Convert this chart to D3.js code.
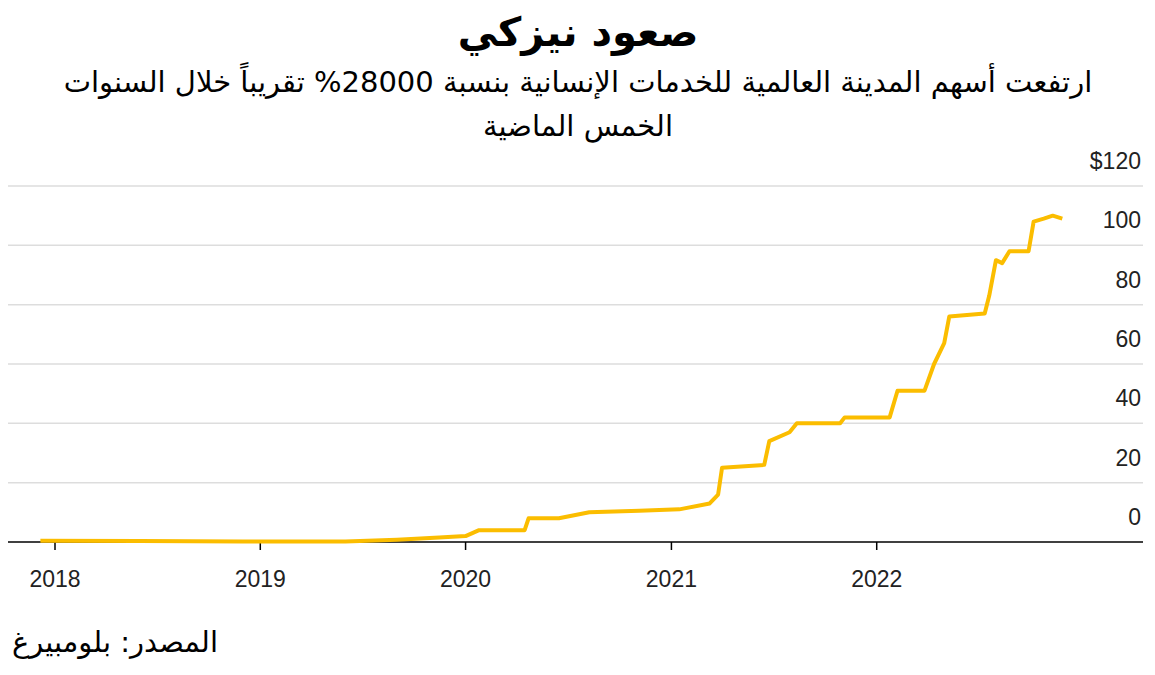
<!DOCTYPE html>
<html><head><meta charset="utf-8">
<script src="https://cdn.jsdelivr.net/npm/d3@7"></script>
<style>body{margin:0;background:#fff}</style></head>
<body><svg id="c" width="1155" height="675"></svg>
<script>
const dates=["2017-12-06","2018-06-01","2018-12-01","2019-06-01","2019-09-01","2019-11-15","2020-01-01","2020-01-25","2020-04-15","2020-04-22","2020-06-15","2020-08-08","2020-11-05","2021-01-15","2021-03-10","2021-03-25","2021-04-01","2021-06-15","2021-06-24","2021-07-30","2021-08-12","2021-10-28","2021-11-05","2022-01-24","2022-02-07","2022-03-27","2022-04-13","2022-05-01","2022-05-10","2022-07-12","2022-07-20","2022-08-01","2022-08-12","2022-08-25","2022-09-28","2022-10-07","2022-10-25","2022-11-10","2022-11-27"];
const values=[0.4,0.3,0.2,0.2,0.8,1.5,2,4,4,8,8,10,10.5,11,13,16,25,26,34,37,40,40,42,42,51,51,60,67,76,77,83,95,94,98,98,108,109,110,109];
const yTicks=[0,20,40,60,80,100,120];
const xYears=["2018","2019","2020","2021","2022"];
const svg=d3.select("#c");
const parse=d3.timeParse("%Y-%m-%d");
const x=d3.scaleTime().domain([parse("2018-01-01"),parse("2023-01-01")]).range([55,1082]);
const y=d3.scaleLinear().domain([0,120]).range([542,186]);
const F="'DejaVu Sans', sans-serif";
svg.append("text").attr("x",578).attr("y",46).attr("text-anchor","middle").attr("direction","rtl")
 .attr("font-family",F).attr("font-weight","bold").attr("font-size",40).text("صعود نيزكي");
svg.append("text").attr("x",578).attr("y",92).attr("text-anchor","middle").attr("direction","rtl")
 .attr("font-family",F).attr("font-size",29).text("ارتفعت أسهم المدينة العالمية للخدمات الإنسانية بنسبة 28000% تقريباً خلال السنوات");
svg.append("text").attr("x",578).attr("y",136).attr("text-anchor","middle").attr("direction","rtl")
 .attr("font-family",F).attr("font-size",29).text("الخمس الماضية");
yTicks.forEach(t=>{
 if(t>0) svg.append("line").attr("x1",8).attr("x2",1143).attr("y1",y(t)).attr("y2",y(t)).attr("stroke","#ddd").attr("stroke-width",1.5);
 svg.append("text").attr("x",1141).attr("y",y(t)-17).attr("text-anchor","end").attr("font-family","'Liberation Sans',Arial").attr("font-size",23).attr("fill","#222").text(t===120?"$120":t);
});
svg.append("line").attr("x1",8).attr("x2",1143).attr("y1",542).attr("y2",542).attr("stroke","#000").attr("stroke-width",1.5);
xYears.forEach(yr=>{
 const px=x(parse(yr+"-01-01"));
 svg.append("line").attr("x1",px).attr("x2",px).attr("y1",542).attr("y2",550).attr("stroke","#000").attr("stroke-width",1.5);
 svg.append("text").attr("x",px).attr("y",587).attr("text-anchor","middle").attr("font-family","'Liberation Sans',Arial").attr("font-size",23).attr("fill","#222").text(yr);
});
const data=dates.map((d,i)=>[parse(d),values[i]]);
svg.append("path").datum(data).attr("fill","none").attr("stroke","#fbbd00").attr("stroke-width",4).attr("stroke-linejoin","round")
 .attr("d",d3.line().x(d=>x(d[0])).y(d=>y(d[1])));
svg.append("text").attr("x",218).attr("y",652).attr("text-anchor","start").attr("direction","rtl")
 .attr("font-family",F).attr("font-size",29).text("المصدر: بلومبيرغ");
</script></body></html>
